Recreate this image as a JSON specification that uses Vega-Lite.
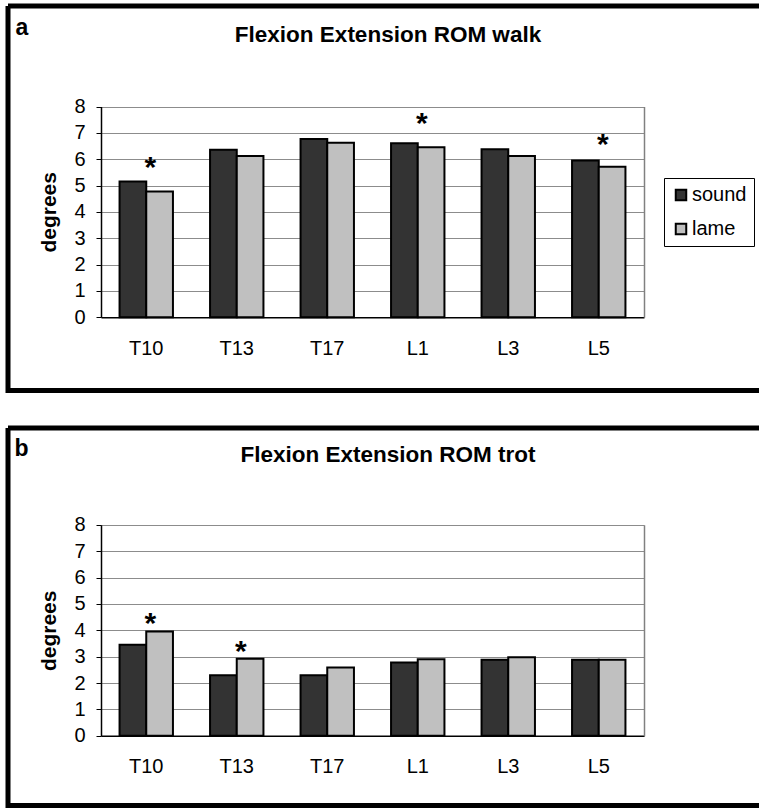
{
  "$schema": "https://vega.github.io/schema/vega-lite/v6.json",
  "background": "white",
  "padding": {"left": 5, "top": 3, "right": 0, "bottom": 0},
  "datasets": {
    "walk": [
      {"segment": "T10", "group": "sound", "degrees": 5.15},
      {"segment": "T10", "group": "lame", "degrees": 4.77},
      {"segment": "T13", "group": "sound", "degrees": 6.36},
      {"segment": "T13", "group": "lame", "degrees": 6.12},
      {"segment": "T17", "group": "sound", "degrees": 6.77},
      {"segment": "T17", "group": "lame", "degrees": 6.62},
      {"segment": "L1", "group": "sound", "degrees": 6.60},
      {"segment": "L1", "group": "lame", "degrees": 6.45},
      {"segment": "L3", "group": "sound", "degrees": 6.38},
      {"segment": "L3", "group": "lame", "degrees": 6.12},
      {"segment": "L5", "group": "sound", "degrees": 5.95},
      {"segment": "L5", "group": "lame", "degrees": 5.71}
    ],
    "trot": [
      {"segment": "T10", "group": "sound", "degrees": 3.45},
      {"segment": "T10", "group": "lame", "degrees": 3.95},
      {"segment": "T13", "group": "sound", "degrees": 2.30},
      {"segment": "T13", "group": "lame", "degrees": 2.92},
      {"segment": "T17", "group": "sound", "degrees": 2.30},
      {"segment": "T17", "group": "lame", "degrees": 2.59},
      {"segment": "L1", "group": "sound", "degrees": 2.78},
      {"segment": "L1", "group": "lame", "degrees": 2.90},
      {"segment": "L3", "group": "sound", "degrees": 2.88},
      {"segment": "L3", "group": "lame", "degrees": 2.98},
      {"segment": "L5", "group": "sound", "degrees": 2.88},
      {"segment": "L5", "group": "lame", "degrees": 2.88}
    ],
    "walk_sig": [
      {"segment": "T10", "degrees": 5.87},
      {"segment": "L1", "degrees": 7.54},
      {"segment": "L5", "degrees": 6.71}
    ],
    "trot_sig": [
      {"segment": "T10", "degrees": 4.44},
      {"segment": "T13", "degrees": 3.36}
    ]
  },
  "vconcat": [
    {
      "width": 751,
      "height": 384.5,
      "view": {"stroke": "black", "strokeWidth": 5, "fill": "white", "strokeDash": [751, 384.5, 1135.5, 0]},
      "title": {"text": "Flexion Extension ROM walk", "frame": "group", "anchor": "middle", "offset": -40, "dx": 4.5, "fontSize": 22.5, "fontWeight": "bold", "color": "black"},
      "layer": [
        {
          "data": {"name": "walk"},
          "mark": {"type": "bar", "stroke": "black", "strokeWidth": 2},
          "encoding": {
            "x": {
              "field": "segment", "type": "nominal",
              "sort": ["T10", "T13", "T17", "L1", "L3", "L5"],
              "scale": {"range": [93, 636], "paddingInner": 0.41, "paddingOuter": 0.205},
              "axis": {"orient": "bottom", "offset": -73.3, "ticks": false, "domainColor": "black", "domainWidth": 1.5, "labelAngle": 0, "labelFontSize": 20, "labelColor": "black", "labelPadding": 21, "title": null}
            },
            "xOffset": {"field": "group", "type": "nominal", "sort": ["sound", "lame"]},
            "y": {
              "field": "degrees", "type": "quantitative",
              "scale": {"domain": [0, 8], "range": [311.2, 100.5], "nice": false},
              "axis": {"orient": "left", "offset": -93, "values": [0, 1, 2, 3, 4, 5, 6, 7, 8], "grid": true, "gridColor": "#8c8c8c", "gridWidth": 1, "domainColor": "black", "domainWidth": 1.5, "tickColor": "black", "tickSize": 5, "labelFontSize": 20, "labelColor": "black", "labelPadding": 11, "title": "degrees", "titleFontSize": 21, "titleFontWeight": "bold", "titleColor": "black", "titlePadding": 14}
            },
            "color": {
              "field": "group", "type": "nominal",
              "scale": {"domain": ["sound", "lame"], "range": ["#333333", "#c0c0c0"]},
              "legend": {"orient": "none", "legendX": 656, "legendY": 172, "title": null, "symbolType": "square", "symbolSize": 110, "symbolStrokeColor": "black", "symbolStrokeWidth": 2, "labelFontSize": 20, "labelColor": "black", "labelOffset": 1, "strokeColor": "black", "fillColor": "white", "padding": 7, "rowPadding": 14}
            }
          }
        },
        {
          "data": {"name": "walk_sig"},
          "mark": {"type": "text", "text": "*", "fontSize": 30, "fontWeight": "bold", "dx": 4, "dy": 5, "baseline": "middle", "color": "black"},
          "encoding": {
            "x": {
              "field": "segment", "type": "nominal",
              "sort": ["T10", "T13", "T17", "L1", "L3", "L5"],
              "axis": {"orient": "top", "offset": 0, "domain": false, "ticks": false, "labels": false, "grid": false, "title": "a", "titleX": 7, "titleY": 28, "titleAlign": "left", "titleBaseline": "alphabetic", "titleAngle": 0, "titleFontSize": 23, "titleFontWeight": "bold", "titleColor": "black"}
            },
            "y": {
              "field": "degrees", "type": "quantitative",
              "axis": {"orient": "right", "offset": -115, "labels": false, "ticks": false, "grid": false, "title": null, "domainColor": "#808080", "domainWidth": 1.5}
            }
          }
        }
      ],
      "resolve": {"axis": {"x": "independent", "y": "independent"}}
    },
    {
      "width": 751,
      "height": 377.5,
      "view": {"stroke": "black", "strokeWidth": 5, "fill": "white", "strokeDash": [751, 377.5, 1128.5, 0]},
      "title": {"text": "Flexion Extension ROM trot", "frame": "group", "anchor": "middle", "offset": -38, "dx": 4.5, "fontSize": 22.5, "fontWeight": "bold", "color": "black"},
      "layer": [
        {
          "data": {"name": "trot"},
          "mark": {"type": "bar", "stroke": "black", "strokeWidth": 2},
          "encoding": {
            "x": {
              "field": "segment", "type": "nominal",
              "sort": ["T10", "T13", "T17", "L1", "L3", "L5"],
              "scale": {"range": [93, 636], "paddingInner": 0.41, "paddingOuter": 0.205},
              "axis": {"orient": "bottom", "offset": -69.7, "ticks": false, "domainColor": "black", "domainWidth": 1.5, "labelAngle": 0, "labelFontSize": 20, "labelColor": "black", "labelPadding": 21, "title": null}
            },
            "xOffset": {"field": "group", "type": "nominal", "sort": ["sound", "lame"]},
            "y": {
              "field": "degrees", "type": "quantitative",
              "scale": {"domain": [0, 8], "range": [307.8, 96.8], "nice": false},
              "axis": {"orient": "left", "offset": -93, "values": [0, 1, 2, 3, 4, 5, 6, 7, 8], "grid": true, "gridColor": "#8c8c8c", "gridWidth": 1, "domainColor": "black", "domainWidth": 1.5, "tickColor": "black", "tickSize": 5, "labelFontSize": 20, "labelColor": "black", "labelPadding": 11, "title": "degrees", "titleFontSize": 21, "titleFontWeight": "bold", "titleColor": "black", "titlePadding": 14}
            },
            "color": {
              "field": "group", "type": "nominal",
              "scale": {"domain": ["sound", "lame"], "range": ["#333333", "#c0c0c0"]},
              "legend": {"orient": "none", "legendX": 657, "legendY": 168.5, "title": null, "symbolType": "square", "symbolSize": 110, "symbolStrokeColor": "black", "symbolStrokeWidth": 2, "labelFontSize": 20, "labelColor": "black", "labelOffset": 1, "strokeColor": "black", "fillColor": "white", "padding": 7, "rowPadding": 14}
            }
          }
        },
        {
          "data": {"name": "trot_sig"},
          "mark": {"type": "text", "text": "*", "fontSize": 30, "fontWeight": "bold", "dx": 4, "dy": 5, "baseline": "middle", "color": "black"},
          "encoding": {
            "x": {
              "field": "segment", "type": "nominal",
              "sort": ["T10", "T13", "T17", "L1", "L3", "L5"],
              "axis": {"orient": "top", "offset": 0, "domain": false, "ticks": false, "labels": false, "grid": false, "title": "b", "titleX": 6, "titleY": 27.5, "titleAlign": "left", "titleBaseline": "alphabetic", "titleAngle": 0, "titleFontSize": 23, "titleFontWeight": "bold", "titleColor": "black"}
            },
            "y": {
              "field": "degrees", "type": "quantitative",
              "axis": {"orient": "right", "offset": -115, "labels": false, "ticks": false, "grid": false, "title": null, "domainColor": "#808080", "domainWidth": 1.5}
            }
          }
        }
      ],
      "resolve": {"axis": {"x": "independent", "y": "independent"}}
    }
  ],
  "spacing": 32,
  "config": {
    "font": "Liberation Sans",
    "concat": {"spacing": 32}
  }
}
